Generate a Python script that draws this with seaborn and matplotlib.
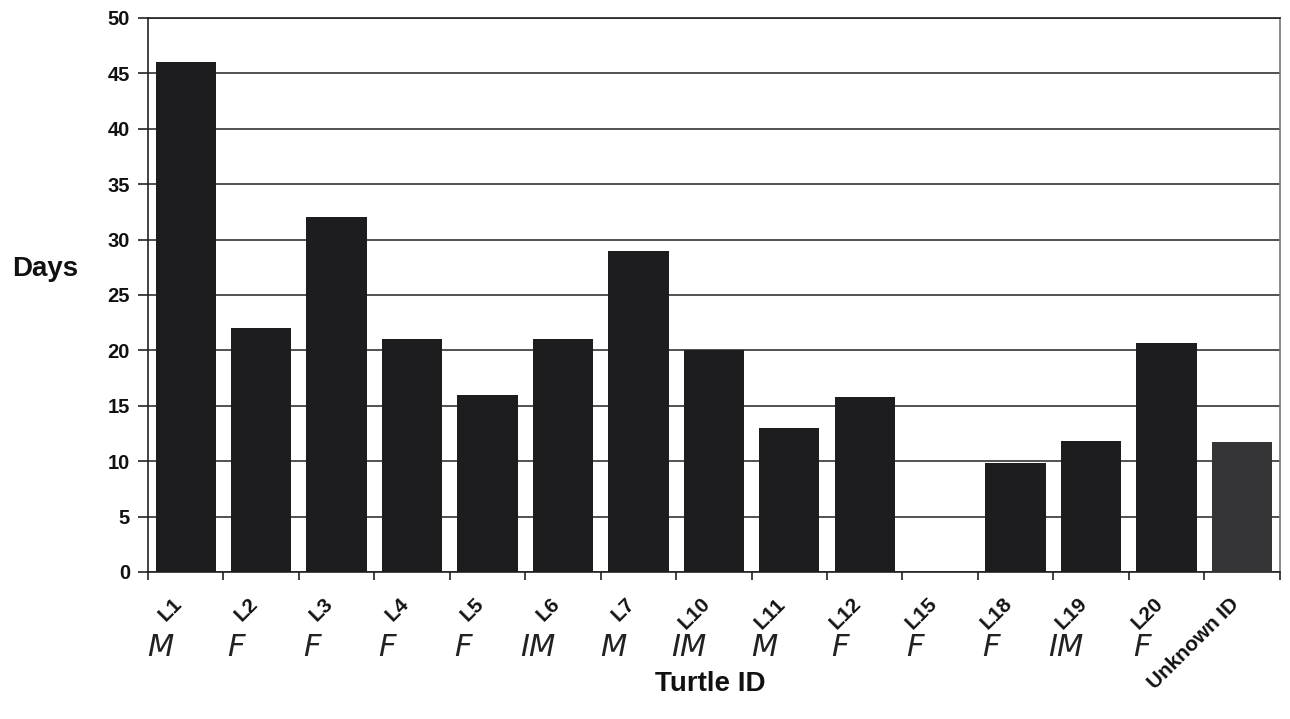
import matplotlib
matplotlib.use("Agg")
import matplotlib.pyplot as plt
import matplotlib.transforms as mtransforms
import seaborn as sns
import pandas as pd
import numpy as np

turtle_ids = ["L1", "L2", "L3", "L4", "L5", "L6", "L7", "L10", "L11", "L12",
              "L15", "L18", "L19", "L20", "Unknown ID"]
days = [46, 22, 32, 21, 16, 21, 29, 20, 13, 15.8, 0, 9.8, 11.8, 20.7, 11.7]
sex_notes = ["M", "F", "F", "F", "F", "IM", "M", "IM", "M", "F", "F", "F", "IM", "F", ""]
y_ticks = [0, 5, 10, 15, 20, 25, 30, 35, 40, 45, 50]

sns.set_theme(style="white")
plt.rcParams["font.family"] = ["Liberation Sans", "DejaVu Sans"]
plt.rcParams["text.color"] = "#111111"
plt.rcParams["axes.labelcolor"] = "#111111"
plt.rcParams["xtick.color"] = "#111111"
plt.rcParams["ytick.color"] = "#111111"

df = pd.DataFrame({"Turtle ID": turtle_ids, "Days": days})
palette = ["#1d1d1f"] * (len(turtle_ids) - 1) + ["#353537"]

fig = plt.figure(figsize=(12.9, 7.19), dpi=100)
ax = fig.add_axes([0.1147, 0.2045, 0.8773, 0.7705])
sns.barplot(data=df, x="Turtle ID", y="Days", hue="Turtle ID", palette=palette,
            order=turtle_ids, legend=False, width=0.8, saturation=1, ax=ax,
            zorder=3, edgecolor="none", linewidth=0)

ax.set_xlim(-0.5, len(turtle_ids) - 0.5)
ax.set_ylim(0, 50)
ax.set_yticks(y_ticks)
ax.set_yticklabels([str(t) for t in y_ticks], fontsize=14.5, fontweight="bold")
ax.yaxis.grid(True, color="#222222", linewidth=1.1, zorder=0)
ax.xaxis.grid(False)

# Category labels at centers, tick marks at category boundaries (Excel style)
ax.set_xticks(np.arange(len(turtle_ids)))
ax.set_xticklabels(turtle_ids, rotation=45, ha="right", va="top",
                   rotation_mode="anchor", fontsize=15, fontweight="bold")
ax.tick_params(axis="x", which="major", length=0, pad=16)
ax.set_xticks(np.arange(len(turtle_ids) + 1) - 0.5, minor=True)
ax.tick_params(axis="x", which="minor", length=6, width=1.2, color="#222222",
               direction="out", bottom=True)
ax.tick_params(axis="y", length=7, width=1.2, color="#222222", direction="out",
               left=True, pad=6)

# shift rotated labels left so their end sits just left of the category center
offset = mtransforms.ScaledTranslation(-13 / 100, 0, fig.dpi_scale_trans)
for lbl in ax.get_xticklabels():
    lbl.set_transform(lbl.get_transform() + offset)

ax.set_xlabel("Turtle ID", fontsize=20, fontweight="bold", va="center")
ax.xaxis.set_label_coords((710 - 148) / 1132, -(684 - 572) / 554)
ax.set_ylabel("Days", fontsize=20, fontweight="bold", rotation=0, va="center", ha="center")
ax.yaxis.set_label_coords((45 - 148) / 1132, (572 - 269) / 554)

for s in ["left", "bottom", "top", "right"]:
    ax.spines[s].set_visible(True)
    ax.spines[s].set_color("#222222")
    ax.spines[s].set_linewidth(1.2)
ax.spines["right"].set_color("#777777")

# handwritten sex annotations below each label
trans = mtransforms.blended_transform_factory(ax.transData, fig.transFigure)
for i, note in enumerate(sex_notes):
    if note:
        ax.text(i - 0.33, 1 - 647 / 719, note, transform=trans, fontsize=22,
                style="oblique", family="DejaVu Sans", color="#222222",
                ha="center", va="center", clip_on=False)

fig.savefig("out.png", dpi=100)
